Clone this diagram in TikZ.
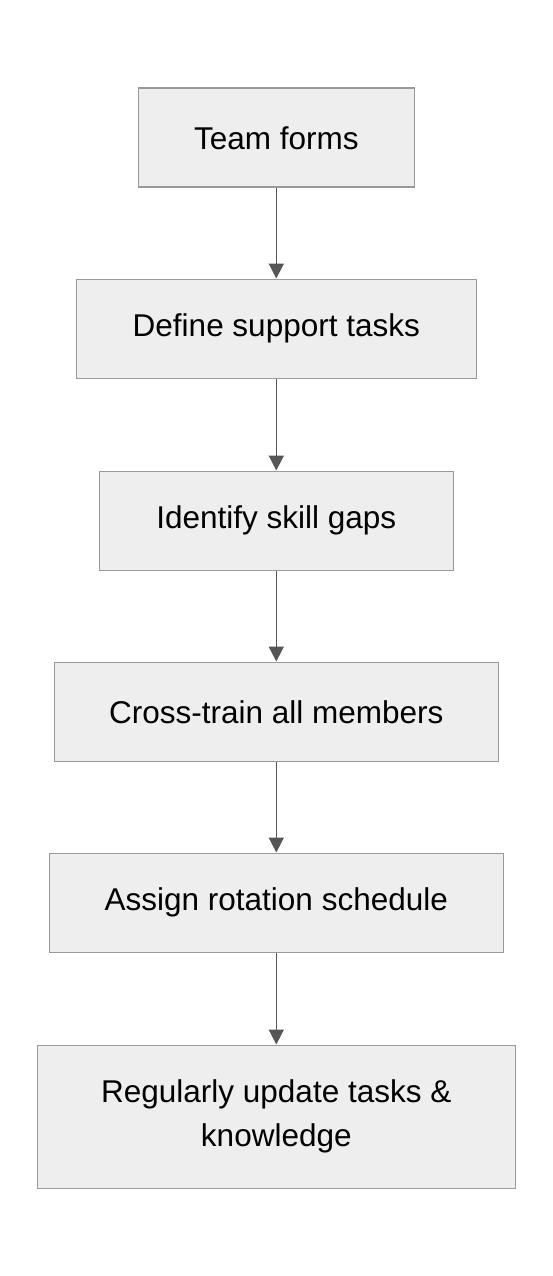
\documentclass[tikz,border=0pt]{standalone}
\usepackage{fontspec}
\setmainfont{Liberation Sans}
\usetikzlibrary{arrows.meta}
\definecolor{boxfill}{HTML}{EEEEEE}
\definecolor{boxline}{HTML}{999999}
\definecolor{arrowcol}{HTML}{555555}
\begin{document}
\begin{tikzpicture}[x=1pt,y=-1pt,
  stepbox/.style={draw=boxline, fill=boxfill, line width=1.6pt, inner sep=0pt, anchor=north west,
    font=\fontsize{31.5}{44}\selectfont, align=center},
  flow/.style={draw=arrowcol, line width=1.6pt, -{Triangle[length=15pt,width=15pt]}}]
\useasboundingbox (0,0) rectangle (552,1276);
\node[stepbox, minimum width=276pt, minimum height=99pt] (a) at (137.5,87.5) {Team forms};
\node[stepbox, minimum width=400pt, minimum height=99pt] (b) at (75.5,278.5) {Define support tasks};
\node[stepbox, minimum width=354pt, minimum height=99pt] (c) at (98.5,470.5) {Identify skill gaps};
\node[stepbox, minimum width=444pt, minimum height=99pt] (d) at (53.5,661.5) {Cross-train all members};
\node[stepbox, minimum width=454pt, minimum height=99pt] (e) at (48.5,852.5) {Assign rotation schedule};
\node[stepbox, minimum width=478pt, minimum height=143pt] (f) at (36.5,1044.5) {Regularly update tasks \&\\knowledge};
\draw[flow] (a) -- (b);
\draw[flow] (b) -- (c);
\draw[flow] (c) -- (d);
\draw[flow] (d) -- (e);
\draw[flow] (e) -- (f);
\end{tikzpicture}
\end{document}
